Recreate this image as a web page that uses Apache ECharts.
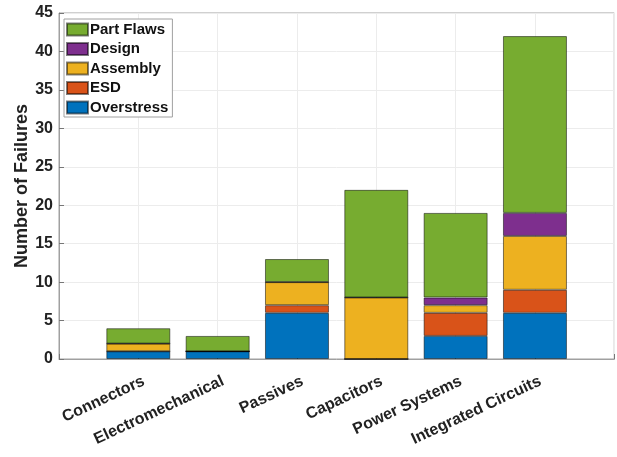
<!DOCTYPE html>
<html><head><meta charset="utf-8">
<script src="https://cdn.jsdelivr.net/npm/echarts@6/dist/echarts.min.js"></script>
<style>html,body{margin:0;padding:0;background:#fff}#c{width:617px;height:457px}</style>
</head><body><div id="c"></div>
<script>
const categories = ['Connectors','Electromechanical','Passives','Capacitors','Power Systems','Integrated Circuits'];
const overstress = [1,1,6,0,3,6];
const esd        = [0,0,1,0,3,3];
const assembly   = [1,0,3,8,1,7];
const design     = [0,0,0,0,1,3];
const partFlaws  = [2,2,3,14,11,23];
const yTicks = [0,5,10,15,20,25,30,35,40,45];

const seriesDefs = [
  {name:'Overstress', data:overstress, color:'#0072BD'},
  {name:'ESD', data:esd, color:'#D95319'},
  {name:'Assembly', data:assembly, color:'#EDB120'},
  {name:'Design', data:design, color:'#7E2F8E'},
  {name:'Part Flaws', data:partFlaws, color:'#77AC30'}
];
// padded category list: an empty slot at each end gives MATLAB-style margins
const paddedCats = [''].concat(categories, ['']);
const font = '"Liberation Sans", Arial, Helvetica, sans-serif';
const chart = echarts.init(document.getElementById('c'));
chart.setOption({
  animation:false,
  textStyle:{fontFamily:font},
  grid:{left:59, top:13, width:560, height:346, show:true, borderColor:'#a0a0a0', borderWidth:1, containLabel:false},
  legend:{
    data:['Part Flaws','Design','Assembly','ESD','Overstress'],
    orient:'vertical', left:64, top:19,
    backgroundColor:'#fff', borderColor:'#a0a0a0', borderWidth:1,
    padding:[3,4,2,2], itemWidth:21, itemHeight:12, itemGap:4.5,
    icon:'rect',
    textStyle:{fontFamily:font, fontWeight:'bold', fontSize:15, color:'#111', padding:[0,0,0,-3], lineHeight:15}
  },
  xAxis:{
    type:'category', data:paddedCats, boundaryGap:false,
    axisLine:{show:true, lineStyle:{color:'#a0a0a0'}},
    axisTick:{show:true, inside:true, length:5, alignWithLabel:true, lineStyle:{color:'#777'}},
    splitLine:{show:true, lineStyle:{color:'#ececec'}},
    axisLabel:{
      interval:0, rotate:25, margin:24, fontFamily:font, fontWeight:'bold', fontSize:16, color:'#222',
      padding:[0,-6,0,0]
    }
  },
  yAxis:{
    type:'value', min:0, max:45, interval:5,
    name:'Number of Failures', nameLocation:'middle', nameGap:28, nameMoveOverlap:false,
    nameTextStyle:{fontFamily:font, fontWeight:'bold', fontSize:18, color:'#222'},
    axisLine:{show:true, lineStyle:{color:'#a0a0a0'}},
    axisTick:{show:true, inside:true, length:5, lineStyle:{color:'#777'}},
    splitLine:{show:true, lineStyle:{color:'#ececec'}},
    axisLabel:{fontFamily:font, fontWeight:'bold', fontSize:16, color:'#222', margin:6,
      formatter:v => yTicks.includes(v) ? String(v) : ''}
  },
  series: seriesDefs.map(s => ({
    name:s.name, type:'bar', stack:'all', barWidth:64,
    data:[null].concat(s.data, [null]),
    itemStyle:{color:s.color, borderColor:'rgba(0,0,0,0.5)', borderWidth:1}
  }))
});
</script></body></html>
